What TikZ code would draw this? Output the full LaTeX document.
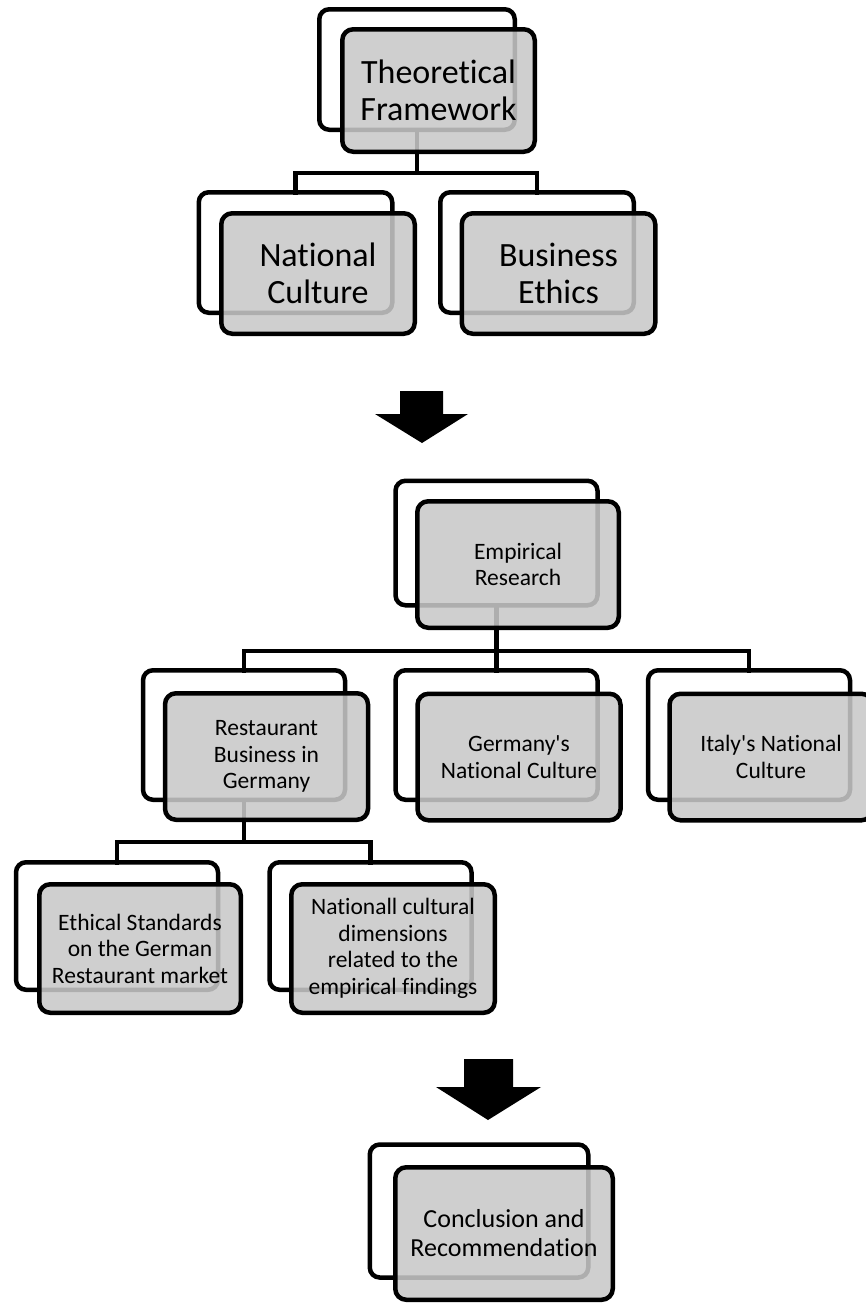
\documentclass[tikz,border=0pt]{standalone}
\usepackage{fontspec}
\setmainfont{Carlito}[Ligatures={NoCommon,TeXOff}]
\definecolor{boxgray}{RGB}{200,200,200}
\tikzset{
  every picture/.style={x=1pt,y=-1pt},
  backbox/.style={draw, line width=4.5pt, rounded corners=10pt, fill=white, inner sep=0pt, outer sep=0pt},
  frontbox/.style={draw, line width=4.5pt, rounded corners=11pt, fill=boxgray, fill opacity=0.87, draw opacity=1, text opacity=1, align=center, inner sep=0pt, outer sep=0pt},
  conn/.style={line width=4.5pt, line cap=rect},
  bigtxt/.style={font=\fontsize{34}{37}\selectfont},
  midtxt/.style={font=\fontsize{23.5}{26.5}\selectfont},
  contxt/.style={font=\fontsize{26}{29}\selectfont},
  lvA/.style={minimum width=193.5pt, minimum height=120.5pt},
  lvB/.style={minimum width=202pt, minimum height=124.5pt},
  lvC/.style={minimum width=203pt, minimum height=127.5pt},
  lvD/.style={minimum width=218.5pt, minimum height=133pt},
  bigarrow/.style={fill=black}
}
\begin{document}
\begin{tikzpicture}
\useasboundingbox (0,0) rectangle (866,1304);

% junction coordinates
\coordinate (j1) at (417,173);
\coordinate (j2) at (496.5,651);
\coordinate (j3) at (244,842);

% ---------- back boxes ----------
\node[backbox, minimum width=195.5pt, minimum height=120.5pt] (tfB) at (417,69.5) {};
\node[backbox, lvA] (ncB) at (295.5,252.5) {};
\node[backbox, lvA] (beB) at (537,252.5) {};
\node[backbox, lvB] (erB) at (496.5,543) {};
\node[backbox, lvB, minimum height=129.5pt] (rbB) at (244,735) {};
\node[backbox, lvB, minimum height=129.5pt] (gnB) at (496.5,735) {};
\node[backbox, lvB, minimum height=129.5pt] (itB) at (749,735) {};
\node[backbox, lvB, minimum height=127.5pt] (esB) at (117,926) {};
\node[backbox, lvB, minimum height=127.5pt] (ndB) at (370.5,926) {};
\node[backbox, lvD] (crB) at (479,1211) {};

% ---------- connectors ----------
\draw[conn] (tfB.south) -- (j1) -| (ncB.north);
\draw[conn] (j1) -| (beB.north);
\draw[conn] (erB.south) -- (j2) -| (rbB.north);
\draw[conn] (j2) -| (itB.north);
\draw[conn] (j2) -- (gnB.north);
\draw[conn] (rbB.south) -- (j3) -| (esB.north);
\draw[conn] (j3) -| (ndB.north);

% ---------- front boxes ----------
\node[frontbox, bigtxt, minimum width=192.5pt, minimum height=122.5pt] (tf) at (438.5,90.5) {Theoretical\\Framework};
\node[frontbox, bigtxt, lvA] (nc) at (318,273.5) {National\\Culture};
\node[frontbox, bigtxt, lvA] (be) at (558.5,273.5) {Business\\Ethics};
\node[frontbox, midtxt, lvC, minimum width=201.5pt, minimum height=126.5pt] (er) at (518,564.5) {Empirical\\Research};
\node[frontbox, midtxt, lvC, minimum height=126.5pt] (rb) at (266.5,756.5) {Restaurant\\Business in\\Germany};
\node[frontbox, midtxt, lvC, minimum height=126.5pt] (gn) at (519,757) {Germany's\\National Culture};
\node[frontbox, midtxt, lvC, minimum height=126.5pt] (it) at (771,757) {Italy's National\\Culture};
\node[frontbox, midtxt, lvC, minimum width=201.5pt, minimum height=128.5pt] (es) at (140,948.5) {Ethical Standards\\on the German\\Restaurant market};
\node[frontbox, midtxt, lvC, minimum width=203.5pt, minimum height=128.5pt] (nd) at (393,948.5) {Nationall cultural\\dimensions\\related to the\\empirical findings};
\node[frontbox, contxt, lvD, minimum width=217.5pt, minimum height=132.5pt] (cr) at (504,1233.5) {Conclusion and\\Recommendation};

% ---------- big arrows ----------
\fill[bigarrow] (400,391) -- (443,391) -- (443,414) -- (468,414) -- (422,443) -- (375,414) -- (400,414) -- cycle;
\fill[bigarrow] (464,1059) -- (513,1059) -- (513,1087) -- (541,1087) -- (488,1120) -- (436,1087) -- (464,1087) -- cycle;
\end{tikzpicture}
\end{document}
